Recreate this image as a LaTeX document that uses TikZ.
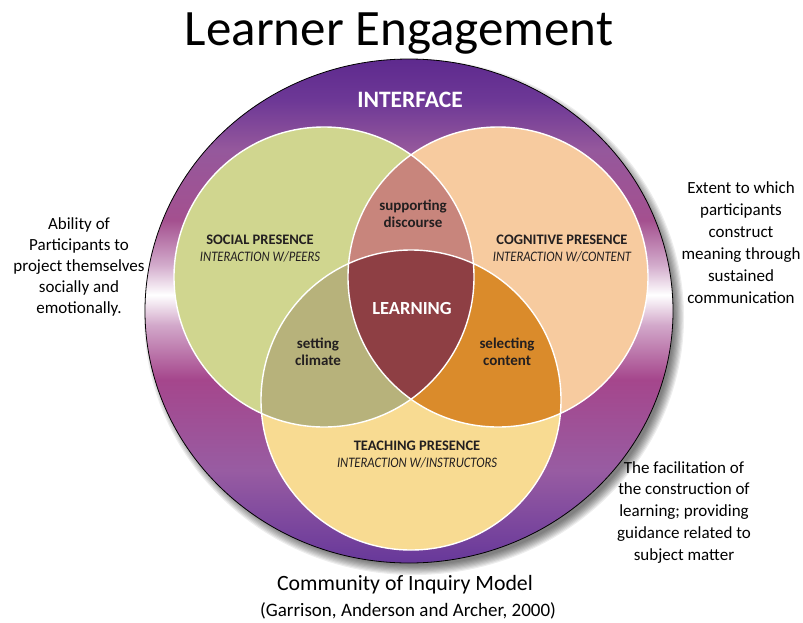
\documentclass[tikz,border=0pt]{standalone}
\usepackage{fontspec}
\setmainfont{Carlito}
\newfontfamily\condfont[FakeStretch=0.87]{Carlito}
\definecolor{ringA}{RGB}{94,42,142}
\definecolor{ringB}{RGB}{109,56,150}
\definecolor{ringC}{RGB}{149,88,156}
\definecolor{ringD}{RGB}{164,80,143}
\definecolor{ringE}{RGB}{210,170,203}
\definecolor{ringF}{RGB}{210,168,202}
\definecolor{ringG}{RGB}{165,70,140}
\definecolor{ringH}{RGB}{152,92,162}
\definecolor{ringI}{RGB}{103,56,154}
\definecolor{socialc}{RGB}{208,214,143}
\definecolor{cognc}{RGB}{247,203,159}
\definecolor{teachc}{RGB}{248,219,146}
\definecolor{rosec}{RGB}{200,133,124}
\definecolor{khakic}{RGB}{183,178,123}
\definecolor{orangec}{RGB}{218,139,43}
\definecolor{maroonc}{RGB}{142,63,68}
\definecolor{labtext}{RGB}{35,31,32}
\pgfdeclareverticalshading{ringshade}{100bp}{color(0bp)=(ringI); color(25bp)=(ringI); color(34.2bp)=(ringH); color(43.2bp)=(ringG); color(48.6bp)=(ringF); color(51.6bp)=(white); color(54.6bp)=(ringE); color(59bp)=(ringD); color(66bp)=(ringC); color(70.9bp)=(ringB); color(75bp)=(ringA); color(100bp)=(ringA)}
\begin{document}
\begin{tikzpicture}[x=1pt,y=-1pt,
  headlab/.style={font=\fontsize{14.5}{16}\selectfont\bfseries, text=labtext, anchor=base, inner sep=0pt},
  sublab/.style={font=\condfont\fontsize{14.5}{16}\selectfont\itshape, text=labtext, anchor=base, inner sep=0pt},
  smalllab/.style={font=\fontsize{15}{16}\selectfont\bfseries, text=labtext, anchor=base, inner sep=0pt},
  whitelab/.style={font=\fontsize{#1}{#1}\selectfont\bfseries, text=white, anchor=base, inner sep=0pt},
  side/.style={font=\fontsize{17}{21}\selectfont, text=black, anchor=base, inner sep=0pt},
  circ/.style={radius=150}]
\useasboundingbox (0,0) rectangle (803,622);
\fill[white] (0,0) rectangle (803,622);
\coordinate (O) at (409,311);
\coordinate (Osh) at (414,317);
\coordinate (S) at (324,277);
\coordinate (C) at (498,277);
\coordinate (T) at (411,400);
% shadow
\foreach \k in {0,...,8}
  \fill[black, opacity=0.07] (Osh) ellipse [x radius=270-1.2*\k, y radius=258-1.2*\k];
% ring
\path[shading=ringshade, draw=black, line width=0.8] (O) ellipse [x radius=264, y radius=252];
% circles
\fill[socialc] (S) circle [circ];
\fill[cognc] (C) circle [circ];
\fill[teachc] (T) circle [circ];
\begin{scope}
  \clip (S) circle [circ];
  \fill[rosec] (C) circle [circ];
  \fill[khakic] (T) circle [circ];
\end{scope}
\begin{scope}
  \clip (C) circle [circ];
  \fill[orangec] (T) circle [circ];
  \clip (S) circle [circ];
  \fill[maroonc] (T) circle [circ];
\end{scope}
\draw[white, line width=1.4] (S) circle [circ] (C) circle [circ] (T) circle [circ];
% labels
\node[whitelab=23.5] (iface) at (410,107) {INTERFACE};
\node[headlab] (sp) at (260,244) {SOCIAL PRESENCE};
\node[sublab] (spi) at (260,261) {INTERACTION W/PEERS};
\node[headlab] (cp) at (562,244) {COGNITIVE PRESENCE};
\node[sublab] (cpi) at (562,261) {INTERACTION W/CONTENT};
\node[headlab] (tp) at (417,450) {TEACHING PRESENCE};
\node[sublab] (tpi) at (417,467) {INTERACTION W/INSTRUCTORS};
\node[smalllab] (sd1) at (413,210) {supporting};
\node[smalllab] (sd2) at (413,227) {discourse};
\node[smalllab] (sc1) at (318,348) {setting};
\node[smalllab] (sc2) at (318,365) {climate};
\node[smalllab] (se1) at (507,348) {selecting};
\node[smalllab] (se2) at (507,365) {content};
\node[whitelab=18.5] (learn) at (412,314) {LEARNING};
% title and side texts
\node[font=\fontsize{51}{51}\selectfont, anchor=base, inner sep=0pt] (title) at (399,45) {Learner Engagement};
\foreach \t [count=\i] in {Ability of, Participants to, project themselves, socially and, emotionally.}
  \node[side] (l\i) at (79,229+21*\i-21) {\t};
\foreach \t [count=\i] in {Extent to which, participants, construct, meaning through, sustained, communication}
  \node[side] (r\i) at (741,193+22*\i-22) {\t};
\foreach \t [count=\i] in {The facilitation of, the construction of, {learning; providing}, guidance related to, subject matter}
  \node[side] (b\i) at (684,473+21.75*\i-21.75) {\t};
\node[font=\fontsize{21.8}{24}\selectfont, anchor=base, inner sep=0pt] (coi) at (405,590) {Community of Inquiry Model};
\node[font=\fontsize{19}{22}\selectfont, anchor=base, inner sep=0pt] (ref) at (408,616) {(Garrison, Anderson and Archer, 2000)};
\end{tikzpicture}
\end{document}
